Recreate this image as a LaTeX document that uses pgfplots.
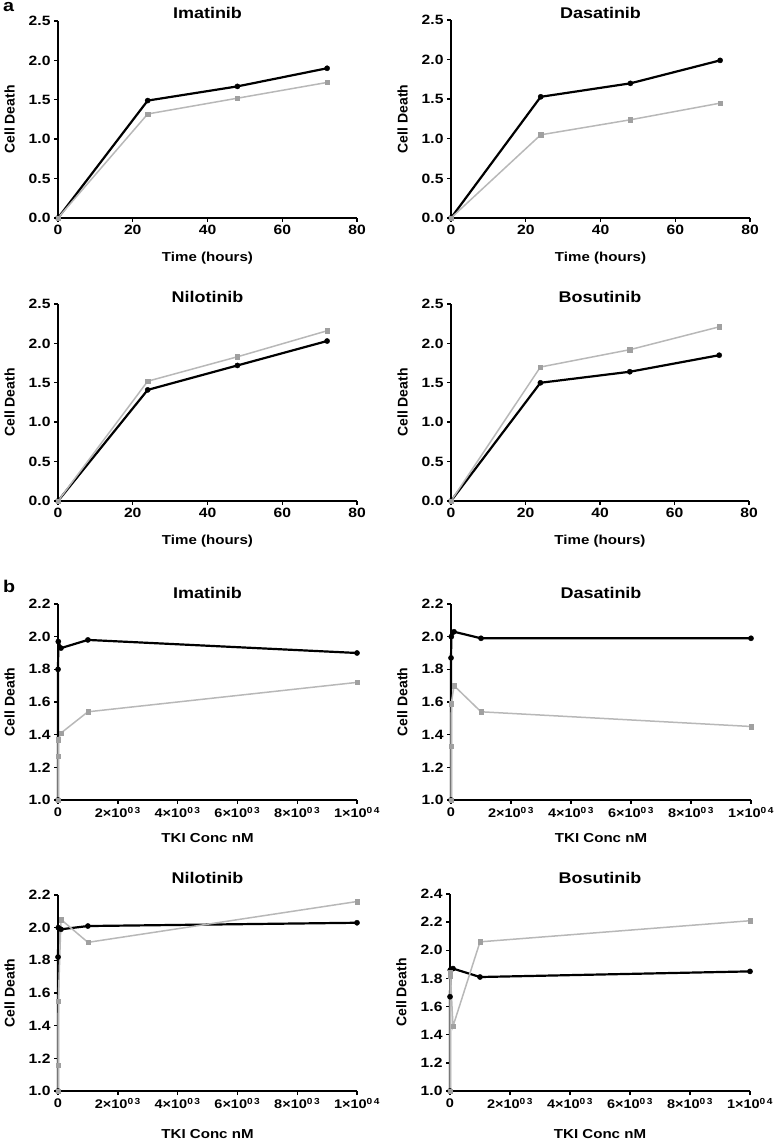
\documentclass[border=0pt]{standalone}
\usepackage{fontspec}
\setmainfont{Liberation Sans}
\newfontfamily\sfs{Liberation Sans}[FakeStretch=1.16]
\usepackage{pgfplots}
\pgfplotsset{compat=1.18}
\definecolor{lgray}{HTML}{B8B8B8}
\definecolor{mgray}{HTML}{A0A0A0}
\pgfplotsset{
  panel/.style={
    scale only axis,
    axis lines*=left,
    axis line style={line width=2.4pt,-},
    every outer x axis line/.append style={-},
    every outer y axis line/.append style={-},
    tick align=outside, major tick length=4pt,
    tick style={line width=1.4pt,black},
    clip=false,
    scaled x ticks=false, scaled y ticks=false,
    /pgf/number format/assume math mode=true,
    tick label style={font=\sfs\bfseries\fontsize{13.5}{14}\selectfont},
    title style={font=\sfs\bfseries\fontsize{15.5}{16}\selectfont, at={(0.5,1)}, anchor=center},
    ylabel={Cell Death},
    ylabel style={font=\bfseries\fontsize{14}{14}\selectfont, at={(axis description cs:-0.162,0.5)}, anchor=center},
    xlabel style={font=\sfs\bfseries\fontsize{13}{13}\selectfont, anchor=center},
    yticklabel style={/pgf/number format/.cd, fixed, fixed zerofill, precision=1},
  },
  pa/.style={panel, xmin=0, xmax=80, ymin=0, ymax=2.5,
    xtick={0,20,40,60,80}, ytick={0,0.5,1,1.5,2,2.5},
    xlabel={Time (hours)},
    xlabel style={at={(axis description cs:0.5,-0.203)}}},
  pb/.style={panel, xmin=0, xmax=10000, ymin=1,
    xtick={0,2000,4000,6000,8000,10000},
    xticklabel style={font=\sfs\bfseries\fontsize{12.5}{13}\selectfont},
    xticklabels={0,2×10\textsuperscript{0\,3},4×10\textsuperscript{0\,3},6×10\textsuperscript{0\,3},8×10\textsuperscript{0\,3},1×10\textsuperscript{0\,4}},
    xlabel={TKI Conc nM},
    xlabel style={at={(axis description cs:0.5,-0.195)}}},
  blk/.style={black, line width=2.2pt, mark=*, mark size=2.6pt, mark options={solid,line width=0.4pt}},
  gry/.style={lgray, line width=1.5pt, mark=square*, mark size=2.2pt, mark options={solid,fill=mgray,draw=mgray,line width=0.3pt}},
}
\begin{document}
\begin{tikzpicture}
\useasboundingbox (0,0) rectangle (775pt,1142pt);
\node[anchor=base west, inner sep=0pt] at (3pt,1130pt) {\sfs\bfseries\fontsize{17}{17}\selectfont a};
\node[anchor=base west, inner sep=0pt] at (3pt,549pt) {\sfs\bfseries\fontsize{17}{17}\selectfont b};

% ---- a: Imatinib
\begin{axis}[pa, at={(58pt,924pt)}, anchor=south west, width=299pt, height=197pt,
  title={Imatinib}, title style={yshift=2pt}]
\addplot[blk] coordinates {(0,0) (24,1.49) (48,1.67) (72,1.90)};
\addplot[gry] coordinates {(0,0) (24,1.32) (48,1.52) (72,1.72)};
\end{axis}
% ---- a: Dasatinib
\begin{axis}[pa, at={(451pt,924pt)}, anchor=south west, width=299pt, height=198pt,
  title={Dasatinib}, title style={yshift=1pt}]
\addplot[blk] coordinates {(0,0) (24,1.53) (48,1.70) (72,1.99)};
\addplot[gry] coordinates {(0,0) (24,1.05) (48,1.24) (72,1.45)};
\end{axis}
% ---- a: Nilotinib
\begin{axis}[pa, at={(58pt,641pt)}, anchor=south west, width=299pt, height=197pt,
  title={Nilotinib}, title style={yshift=1pt}]
\addplot[blk] coordinates {(0,0) (24,1.41) (48,1.72) (72,2.03)};
\addplot[gry] coordinates {(0,0) (24,1.52) (48,1.83) (72,2.16)};
\end{axis}
% ---- a: Bosutinib
\begin{axis}[pa, at={(451pt,641pt)}, anchor=south west, width=298pt, height=197pt,
  title={Bosutinib}, title style={yshift=1pt}]
\addplot[blk] coordinates {(0,0) (24,1.50) (48,1.64) (72,1.85)};
\addplot[gry] coordinates {(0,0) (24,1.70) (48,1.92) (72,2.21)};
\end{axis}

% ---- b: Imatinib
\begin{axis}[pb, ymax=2.2, ytick={1,1.2,...,2.21}, at={(58pt,342pt)}, anchor=south west, width=299pt, height=196pt,
  title={Imatinib}, title style={yshift=5pt}]
\addplot[blk] coordinates {(0,1.0) (1,1.80) (10,1.97) (100,1.93) (1000,1.98) (10000,1.90)};
\addplot[gry] coordinates {(0,1.0) (1,1.27) (10,1.37) (100,1.41) (1000,1.54) (10000,1.72)};
\end{axis}
% ---- b: Dasatinib
\begin{axis}[pb, ymax=2.2, ytick={1,1.2,...,2.21}, at={(451pt,342pt)}, anchor=south west, width=300pt, height=196pt,
  title={Dasatinib}, title style={yshift=5pt}]
\addplot[blk] coordinates {(0,1.0) (1,1.87) (10,2.00) (100,2.03) (1000,1.99) (10000,1.99)};
\addplot[gry] coordinates {(0,1.0) (1,1.33) (10,1.59) (100,1.70) (1000,1.54) (10000,1.45)};
\end{axis}
% ---- b: Nilotinib
\begin{axis}[pb, ymax=2.2, ytick={1,1.2,...,2.21}, at={(58pt,51pt)}, anchor=south west, width=299pt, height=196pt,
  title={Nilotinib}, title style={yshift=11pt}, xlabel style={at={(axis description cs:0.5,-0.22)}}]
\addplot[blk] coordinates {(0,1.0) (1,1.82) (10,2.00) (100,1.99) (1000,2.01) (10000,2.03)};
\addplot[gry] coordinates {(0,1.0) (1,1.16) (10,1.55) (100,2.05) (1000,1.91) (10000,2.16)};
\end{axis}
% ---- b: Bosutinib
\begin{axis}[pb, ymax=2.4, ytick={1,1.2,...,2.41}, at={(450pt,51pt)}, anchor=south west, width=300pt, height=197pt,
  title={Bosutinib}, title style={yshift=10pt}, xlabel style={at={(axis description cs:0.5,-0.22)}}]
\addplot[blk] coordinates {(0,1.0) (1,1.67) (10,1.86) (100,1.87) (1000,1.81) (10000,1.85)};
\addplot[gry] coordinates {(0,1.0) (1,1.82) (10,1.84) (100,1.46) (1000,2.06) (10000,2.21)};
\end{axis}
\end{tikzpicture}
\end{document}
